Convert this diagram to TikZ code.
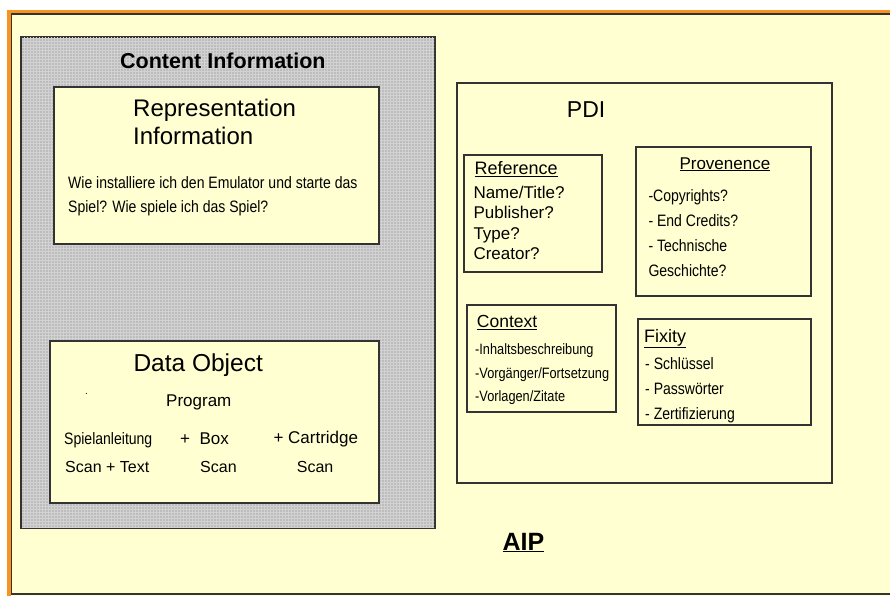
\documentclass[tikz,border=0pt]{standalone}
\usepackage{fontspec}
\setmainfont{Liberation Sans}
\newfontfamily\narrowfont[FakeStretch=0.85]{Liberation Sans}
\usepackage{tikz}
\usetikzlibrary{positioning,patterns}
\usepackage{xcolor}
\definecolor{aipyellow}{HTML}{FFFFD2}
\definecolor{aiporange}{HTML}{F7931E}
\definecolor{cigray}{HTML}{BDBDBD}
\definecolor{cigrid}{HTML}{D2D2D2}
\definecolor{boxline}{HTML}{333333}
\newcommand{\fsz}[1]{\fontsize{#1}{#1}\selectfont}
\tikzstyle{box}=[draw=boxline, line width=1.2pt, fill=aipyellow, rectangle, inner sep=0pt]
\tikzstyle{graybox}=[draw=boxline, line width=1.6pt, fill=cigray, rectangle, inner sep=0pt]
\tikzstyle{txt}=[anchor=base west, inner sep=0pt]

\begin{document}
\begin{tikzpicture}[x=1pt, y=-1pt]
\useasboundingbox (0,0) rectangle (890,596);

% AIP frame
\fill[white] (0,0) rectangle (890,596);
\draw[aiporange, line width=3.5pt, fill=aipyellow] (9,12) rectangle (905,598);
\draw[boxline, line width=1.2pt] (11.5,14) rectangle (905,594);
\node[txt] (aip) at (502.3,550) {\fsz{25}\bfseries\underline{AIP}};

% Content Information
\node[graybox, minimum width=414pt, minimum height=491pt] (content) at (228,282.5) {};
\fill[pattern=grid, pattern color=cigrid] (22,38) rectangle (434,527);
\node[txt] (contenttitle) at (120,69) {\fsz{21.5}\bfseries Content Information};

% Representation Information
\node[box, minimum width=325pt, minimum height=157pt] (repinfo) at (216.5,165.5) {};
\node[txt] (reptitle1) at (133,117) {\fsz{24}Representation};
\node[txt] (reptitle2) at (133,145) {\fsz{24}Information};
\node[txt] (repline1) at (68,188) {\narrowfont\fsz{16.5}Wie installiere ich den Emulator und starte das};
\node[txt] (repline2) at (68,212) {\narrowfont\fsz{16.5}Spiel? Wie spiele ich das Spiel?};

% Data Object
\node[box, minimum width=329pt, minimum height=162pt] (dataobj) at (214.5,422) {};
\node[txt] (datatitle) at (133.3,371.5) {\fsz{24.5}Data Object};
\node[txt] (dot) at (85,394) {\fsz{10}.};
\node[txt] (program) at (166,406) {\fsz{17}Program};
\node[txt] (manual) at (64,444) {\narrowfont\fsz{16.5}Spielanleitung};
\node[txt] (box) at (180,444) {\fsz{17}+\ \ Box};
\node[txt] (cartridge) at (273.3,443.5) {\fsz{17}+ Cartridge};
\node[txt] (scantext) at (65,472.5) {\fsz{16}Scan + Text};
\node[txt] (scanbox) at (200,472.5) {\fsz{16}Scan};
\node[txt] (scancart) at (296.7,472.5) {\fsz{16}Scan};

% PDI
\node[box, minimum width=375pt, minimum height=400pt] (pdi) at (644.5,283) {};
\node[txt] (pdititle) at (566.7,118) {\fsz{23}PDI};

% Reference
\node[box, minimum width=138pt, minimum height=117pt] (reference) at (533,213.5) {};
\node[txt] (reftitle) at (474.3,175) {\fsz{18}\underline{Reference}};
\foreach \t [count=\i] in {Name/Title?, Publisher?, Type?, Creator?}
    \node[txt] (ref\i) at (473.3,{198+20.6*(\i-1)}) {\fsz{17}\t};

% Provenence
\node[box, minimum width=175pt, minimum height=149pt] (provenence) at (723.5,221.5) {};
\node[txt] (provtitle) at (679.3,169) {\fsz{17}\underline{Provenence}};
\foreach \t [count=\i] in {-Copyrights?, - End Credits?, - Technische, Geschichte?}
    \node[txt] (prov\i) at (648.3,{201.7+24.8*(\i-1)}) {\narrowfont\fsz{16.5}\t};

% Context
\node[box, minimum width=149pt, minimum height=107pt] (context) at (541.5,358.5) {};
\node[txt] (contexttitle) at (476.7,327.7) {\fsz{17.5}\underline{Context}};
\foreach \t [count=\i] in {-Inhaltsbeschreibung, -Vorgänger/Fortsetzung, -Vorlagen/Zitate}
    \node[txt] (ctx\i) at (475,{354.3+23.7*(\i-1)}) {\narrowfont\fsz{15}\t};

% Fixity
\node[box, minimum width=173pt, minimum height=106pt] (fixity) at (724.5,372) {};
\node[txt] (fixtitle) at (644,342) {\fsz{18}\underline{Fixity}};
\foreach \t [count=\i] in {- Schlüssel, - Passwörter, - Zertifizierung}
    \node[txt] (fix\i) at (645,{369+25*(\i-1)}) {\narrowfont\fsz{16.5}\t};

\end{tikzpicture}
\end{document}
